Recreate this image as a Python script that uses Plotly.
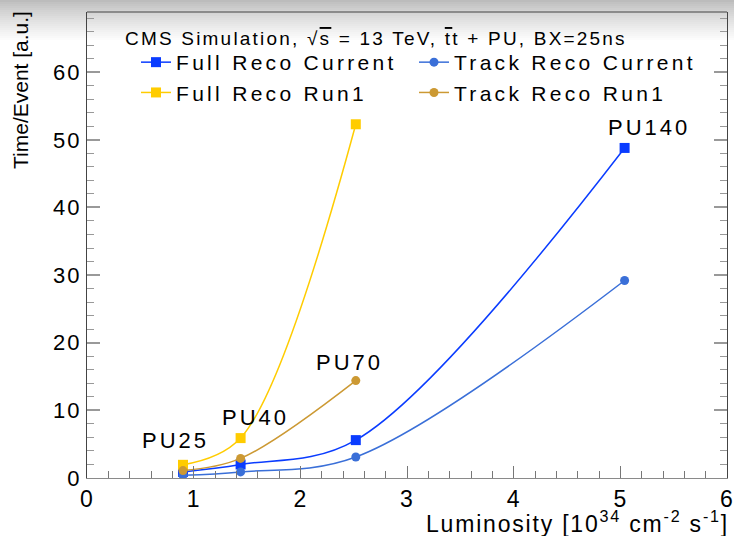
import plotly.graph_objects as go

# ---- data ----
pu_labels = ["PU25", "PU40", "PU70", "PU140"]
lumi = [0.90, 1.44, 2.52, 5.04]
full_reco_current = [0.9, 2.0, 5.6, 48.8]
track_reco_current = [0.4, 0.9, 3.1, 29.2]
lumi_run1 = [0.90, 1.44, 2.52]
full_reco_run1 = [1.95, 5.9, 52.3]
track_reco_run1 = [1.1, 2.9, 14.4]

label_x = [0.83, 1.58, 2.46, 5.27]
label_y = [5.6, 9.0, 17.1, 51.8]

y_ticks = [0, 10, 20, 30, 40, 50, 60]
x_ticks = [0, 1, 2, 3, 4, 5, 6]

FONT = "Liberation Sans, Arial, sans-serif"


def sp(t, ls):
    return f"<span style='letter-spacing:{ls}px'>{t}</span>"


series = [
    ("Full Reco Current", lumi, full_reco_current, "#0a3cff", "square", 10, "legend"),
    ("Track Reco Current", lumi, track_reco_current, "#3a6fd8", "circle", 9, "legend2"),
    ("Full Reco Run1", lumi_run1, full_reco_run1, "#ffcc00", "square", 10, "legend"),
    ("Track Reco Run1", lumi_run1, track_reco_run1, "#cc9933", "circle", 9, "legend2"),
]

fig = go.Figure()
for name, xs, ys, col, sym, ms, lg in series:
    fig.add_trace(go.Scatter(
        x=xs, y=ys, name=sp(name, 3.3), mode="lines+markers",
        line=dict(color=col, width=1.5, shape="spline", smoothing=1.0),
        marker=dict(color=col, symbol=sym, size=ms),
        legend=lg,
    ))

annotations = []
for t, x, y in zip(pu_labels, label_x, label_y):
    annotations.append(dict(x=x, y=y, xref="x", yref="y", text=sp(t, 3),
                            showarrow=False, font=dict(family=FONT, size=22, color="black")))

annotations.append(dict(
    x=(123 - 87) / 640, y=(478 - 38) / 466, xref="paper", yref="paper",
    xanchor="left", yanchor="middle", showarrow=False,
    text=sp("CMS Simulation, \u221a<span style='text-decoration:overline'>s</span> = 13 TeV, "
            "<span style='text-decoration:overline'>t</span>t + PU, BX=25ns", 2.2),
    font=dict(family=FONT, size=19, color="black")))

annotations.append(dict(
    x=(731 - 87) / 640, y=(478 - 522) / 466, xref="paper", yref="paper",
    xanchor="right", yanchor="middle", showarrow=False,
    text=sp("Luminosity [10<sup>34</sup> cm<sup>-2</sup> s<sup>-1</sup>]", 1.8),
    font=dict(family=FONT, size=23, color="black")))

annotations.append(dict(
    x=(21 - 87) / 640, y=(478 - 9) / 466, xref="paper", yref="paper",
    xanchor="center", yanchor="top", showarrow=False, textangle=-90,
    text="Time/Event [a.u.]",
    font=dict(family=FONT, size=21, color="black")))

# top grey gradient band
shapes = []
n = 20
for i in range(n):
    p0 = i * 2
    p1 = p0 + 2
    f = (i / n) ** 0.8
    g = int(188 + (255 - 188) * f)
    shapes.append(dict(type="rect", xref="paper", yref="paper",
                       x0=-87 / 640 - 0.01, x1=1 + 7 / 640 + 0.01,
                       y0=(478 - p1) / 466, y1=(478 - p0) / 466,
                       fillcolor=f"rgb({g},{g},{g})", line=dict(width=0), layer="below"))
# top frame line
shapes.append(dict(type="line", xref="paper", yref="paper", x0=0, x1=1, y0=1, y1=1,
                   line=dict(color="#444444", width=1.2)))

fig.update_layout(
    width=734, height=536,
    margin=dict(l=87, r=7, t=12, b=58, autoexpand=False),
    paper_bgcolor="white", plot_bgcolor="rgba(0,0,0,0)",
    font=dict(family=FONT, color="black"),
    showlegend=True,
    legend=dict(x=(136 - 87) / 640, y=(478 - 42) / 466, xanchor="left", yanchor="top",
                bgcolor="rgba(0,0,0,0)", font=dict(family=FONT, size=21, color="black"),
                itemwidth=30, tracegroupgap=0),
    legend2=dict(x=(414 - 87) / 640, y=(478 - 42) / 466, xanchor="left", yanchor="top",
                 bgcolor="rgba(0,0,0,0)", font=dict(family=FONT, size=21, color="black"),
                 itemwidth=30, tracegroupgap=0),
    annotations=annotations,
    shapes=shapes,
)

fig.update_xaxes(
    range=[0, 6], showgrid=False, zeroline=False, automargin=False,
    showline=True, linecolor="#8a8a8a", linewidth=1.2, mirror=False,
    ticks="inside", ticklen=12, tickcolor="#777777", tickwidth=1.2,
    tickvals=x_ticks, ticktext=[sp(str(v), 1) for v in x_ticks],
    tickfont=dict(family=FONT, size=23, color="black"),
    minor=dict(tickmode="linear", tick0=0, dtick=0.2, ticks="inside", ticklen=7,
               tickcolor="#777777", tickwidth=1.2, showgrid=False),
)
fig.update_yaxes(
    range=[0, 68.9], showgrid=False, zeroline=False, automargin=False,
    showline=True, linecolor="#444444", linewidth=1.2, mirror="ticks",
    ticks="inside", ticklen=13, tickcolor="#999999", tickwidth=1.5,
    tickvals=y_ticks, ticktext=[sp(str(v), 2) for v in y_ticks],
    tickfont=dict(family=FONT, size=22, color="black"),
    minor=dict(tickmode="linear", tick0=0, dtick=2, ticks="inside", ticklen=7,
               tickcolor="#999999", tickwidth=1.2, showgrid=False),
)

fig.write_html("out.html", config={"displayModeBar": False},
               post_script="document.body.style.margin='0px';")
